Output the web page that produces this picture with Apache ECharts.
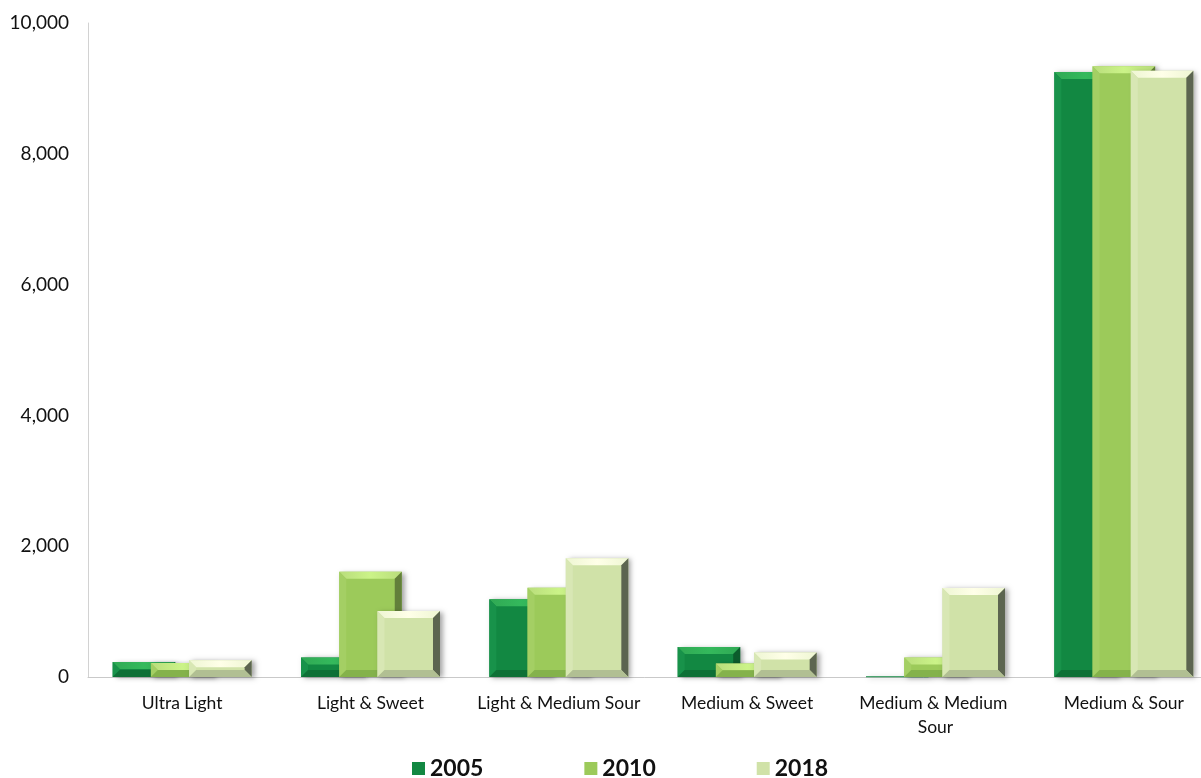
<!DOCTYPE html>
<html>
<head>
<meta charset="utf-8">
<title>Crude grades by year</title>
<script src="https://cdn.jsdelivr.net/npm/echarts@6/dist/echarts.min.js"></script>
<style>
  html, body { margin: 0; padding: 0; background: #ffffff; }
  #chart { width: 1201px; height: 778px; }
</style>
</head>
<body>
<div id="chart"></div>
<script>
// Crude categories on the x axis
const categories = ['Ultra Light', 'Light & Sweet', 'Light & Medium Sour', 'Medium & Sweet', 'Medium & Medium Sour', 'Medium & Sour'];
// Series names (legend)
const years = ['2005', '2010', '2018'];
// Values per year, one entry per category
const values2005 = [230, 300, 1190, 460, 10, 9250];
const values2010 = [215, 1610, 1365, 205, 300, 9340];
const values2018 = [255, 1010, 1815, 375, 1360, 9270];
// Y axis tick values
const yTicks = [0, 2000, 4000, 6000, 8000, 10000];

// Bevelled face colours per series: face, top, left, right, bottom
const palettes = [
  { face: '#128842', top: '#30a954', left: '#18924a', right: '#0c5c2c', bottom: '#0e7036' },
  { face: '#9cca5a', top: '#b9dd7c', left: '#a4cf64', right: '#627f3a', bottom: '#84b24b' },
  { face: '#d0e2a8', top: '#eef6d3', left: '#d8e7b4', right: '#5c6550', bottom: '#b1bf93' }
];

const seriesData = [values2005, values2010, values2018];

function bevelBar(idx) {
  const pal = palettes[idx];
  return function (params, api) {
    const cat = api.value(0);
    const val = api.value(1);
    const base = api.coord([cat, 0]);
    const top = api.coord([cat, val]);
    const band = api.size([1, 0])[0];
    const w = band * 0.332;
    const step = band * 0.203;
    const x = base[0] + (idx - 1) * step - w / 2;
    const y = top[1];
    const h = Math.max(base[1] - top[1], 0.8);
    const b = Math.min(7, h / 2, w / 2);
    const children = [
      {
        type: 'rect',
        shape: { x: x, y: y, width: w, height: h },
        style: {
          fill: pal.face,
          shadowColor: 'rgba(0,0,0,0.35)',
          shadowBlur: 5,
          shadowOffsetX: 3,
          shadowOffsetY: 1
        }
      }
    ];
    if (h > 2) {
      children.push(
        { type: 'polygon', shape: { points: [[x, y], [x + w, y], [x + w - b, y + b], [x + b, y + b]] },
          style: { fill: new echarts.graphic.LinearGradient(0, 0, 1, 0, [
            { offset: 0, color: pal.top }, { offset: 0.5, color: echarts.color.lift(pal.top, -0.1) }, { offset: 1, color: pal.top }]) } },
        { type: 'polygon', shape: { points: [[x, y], [x + b, y + b], [x + b, y + h - b], [x, y + h]] },
          style: { fill: pal.left } },
        { type: 'polygon', shape: { points: [[x + w, y], [x + w, y + h], [x + w - b, y + h - b], [x + w - b, y + b]] },
          style: { fill: pal.right } },
        { type: 'polygon', shape: { points: [[x, y + h], [x + b, y + h - b], [x + w - b, y + h - b], [x + w, y + h]] },
          style: { fill: pal.bottom } }
      );
    }
    return { type: 'group', children: children };
  };
}

const chart = echarts.init(document.getElementById('chart'), null, { renderer: 'canvas' });

const option = {
  animation: false,
  backgroundColor: '#ffffff',
  textStyle: { fontFamily: 'Lato, "Open Sans", sans-serif' },
  grid: { left: 88, width: 1130, top: 23, bottom: 101, containLabel: false, outerBoundsMode: 'none' },
  legend: {
    top: 757,
    left: 412,
    data: years,
    icon: 'rect',
    itemWidth: 13,
    itemHeight: 13,
    itemGap: 101,
    padding: 0,
    textStyle: { fontSize: 23, fontWeight: 'bold', color: '#111111', fontFamily: 'Lato, sans-serif' }
  },
  xAxis: {
    type: 'category',
    data: categories,
    axisLine: { show: true, lineStyle: { color: '#c9c9c9', width: 1 } },
    axisTick: { show: false },
    axisLabel: {
      interval: 0,
      color: '#111111',
      fontSize: 17.5,
      margin: 14,
      lineHeight: 24,
      width: 178,
      overflow: 'break'
    }
  },
  yAxis: {
    type: 'value',
    min: yTicks[0],
    max: yTicks[yTicks.length - 1],
    interval: yTicks[1] - yTicks[0],
    axisLine: { show: true, lineStyle: { color: '#d2d2d2', width: 1 } },
    axisTick: { show: false },
    splitLine: { show: false },
    axisLabel: {
      color: '#111111',
      fontSize: 19,
      margin: 19,
      formatter: function (v) { return v.toLocaleString('en-US'); }
    }
  },
  series: years.map(function (name, i) {
    return {
      name: name,
      type: 'custom',
      renderItem: bevelBar(i),
      itemStyle: { color: palettes[i].face },
      encode: { x: 0, y: 1 },
      data: seriesData[i].map(function (v, c) { return [c, v]; })
    };
  })
};

chart.setOption(option);
</script>
</body>
</html>
